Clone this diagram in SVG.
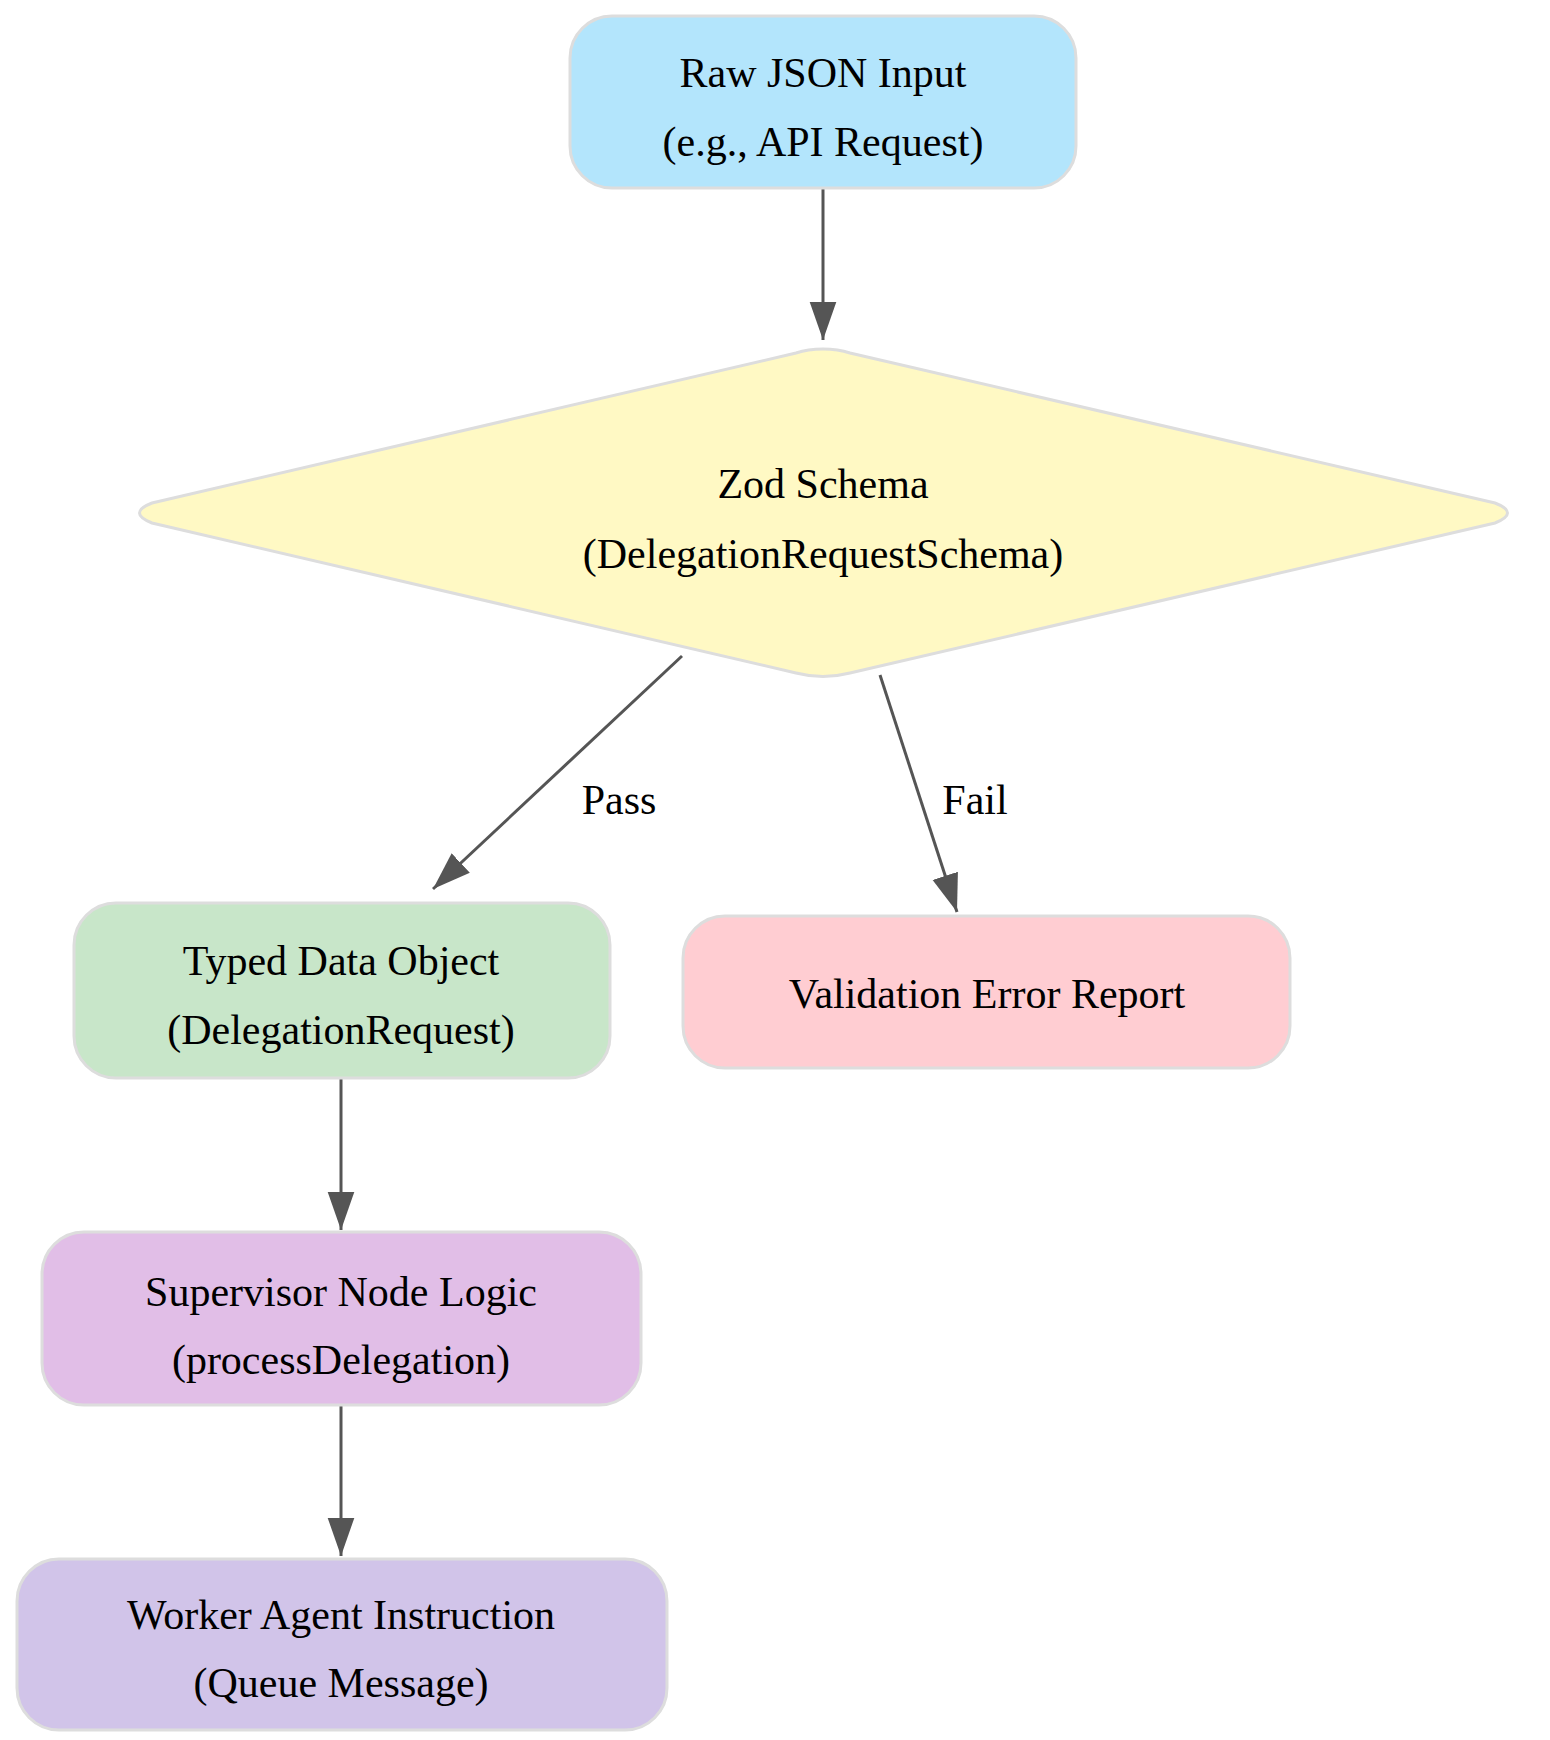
<svg xmlns="http://www.w3.org/2000/svg" width="1550" height="1740" viewBox="0 0 1550 1740">
<style>
.n{stroke:#dddddd;stroke-width:3}
.t{font-family:"Liberation Serif",serif;font-size:42px;fill:#000;text-anchor:middle}
.e{stroke:#555555;stroke-width:3;fill:none}
</style>
<defs><marker id="a" viewBox="0 0 10 10" refX="10" refY="5" markerWidth="12" markerHeight="12" markerUnits="userSpaceOnUse" orient="auto"><path d="M0,0L10,5L0,10z" fill="#555555"/></marker>
<marker id="b" viewBox="0 0 10 10" refX="10" refY="5" markerWidth="38" markerHeight="38" markerUnits="userSpaceOnUse" orient="auto"><path d="M0,1.5L10,5L0,8.5z" fill="#555555"/></marker></defs>
<rect width="1550" height="1740" fill="#fff"/>
<g id="edges">
<line class="e" x1="823" y1="188" x2="823" y2="340" marker-end="url(#b)"/>
<line class="e" x1="682" y1="656" x2="433" y2="889" marker-end="url(#b)"/>
<line class="e" x1="880" y1="675" x2="957" y2="912" marker-end="url(#b)"/>
<line class="e" x1="341" y1="1078" x2="341" y2="1230" marker-end="url(#b)"/>
<line class="e" x1="341" y1="1405" x2="341" y2="1556" marker-end="url(#b)"/>
<text class="t" x="619" y="814">Pass</text>
<text class="t" x="975" y="814">Fail</text>
</g>
<g id="raw"><rect class="n" x="570" y="16" width="506" height="172" rx="42" fill="#b3e5fc"/>
<text class="t" x="823" y="87">Raw JSON Input</text><text class="t" x="823" y="156">(e.g., API Request)</text></g>
<g id="zod"><path class="n" d="M823,349 Q838,349 850,353 L1495,503 Q1520,513 1495,523 L850,673 Q823,680 796,673 L152,523 Q127,513 152,503 L796,353 Q808,349 823,349Z" fill="#fff9c4"/>
<text class="t" x="823" y="498">Zod Schema</text><text class="t" x="823" y="568">(DelegationRequestSchema)</text></g>
<g id="typed"><rect class="n" x="74" y="903" width="536" height="175" rx="42" fill="#c8e6c9"/>
<text class="t" x="341" y="975">Typed Data Object</text><text class="t" x="341" y="1044">(DelegationRequest)</text></g>
<g id="err"><rect class="n" x="683" y="916" width="607" height="152" rx="42" fill="#ffcdd2"/>
<text class="t" x="987" y="1008">Validation Error Report</text></g>
<g id="sup"><rect class="n" x="42" y="1232" width="599" height="173" rx="42" fill="#e1bee7"/>
<text class="t" x="341" y="1306">Supervisor Node Logic</text><text class="t" x="341" y="1374">(processDelegation)</text></g>
<g id="worker"><rect class="n" x="17" y="1559" width="650" height="171" rx="42" fill="#d1c4e9"/>
<text class="t" x="341" y="1629">Worker Agent Instruction</text><text class="t" x="341" y="1697">(Queue Message)</text></g>
</svg>
